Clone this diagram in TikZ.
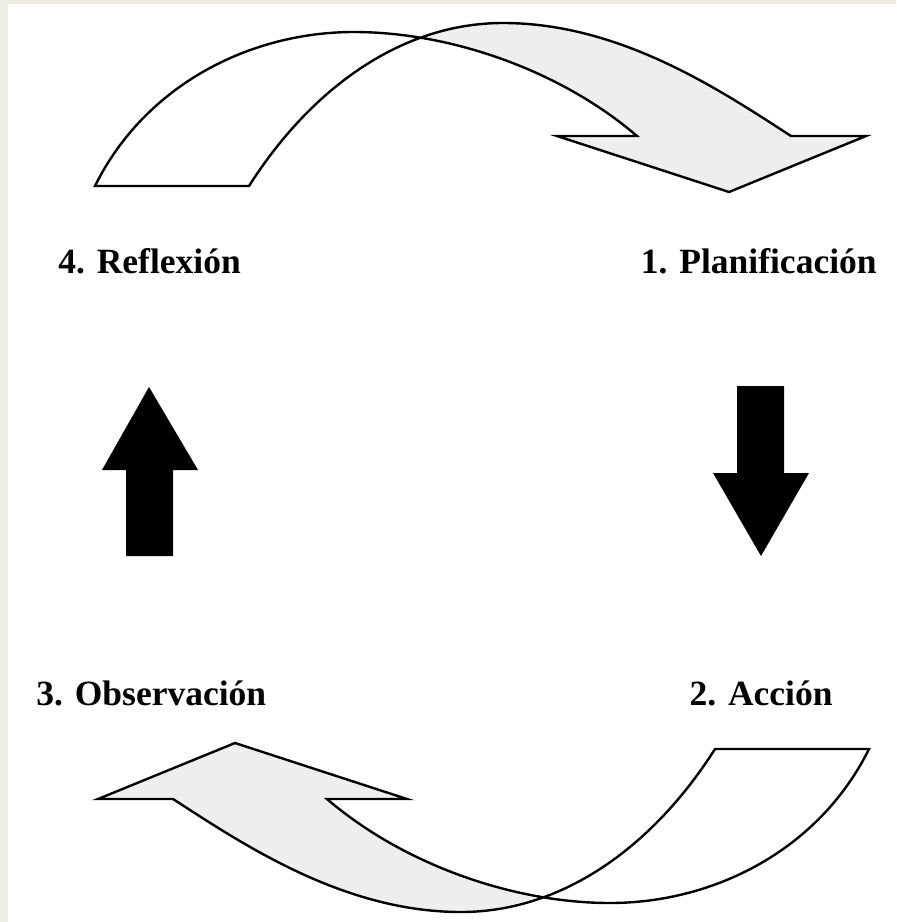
\documentclass[tikz,border=0pt]{standalone}
\usepackage{fontspec}
\setmainfont{Liberation Serif}
\usetikzlibrary{positioning}
\definecolor{paper}{RGB}{239,236,228}
\definecolor{bandgray}{RGB}{238,238,238}

\begin{document}
\begin{tikzpicture}[
        x=0.5pt, y=-0.5pt,
        every node/.style={font=\fontsize{17.75}{20}\selectfont\bfseries, inner sep=0pt},
        outline/.style={draw=black, line width=1.2pt, line join=miter},
        blockarrow/.style={fill=black},
        twistpath/.style={insert path={(95,186) .. controls (145,85) and (250,32) .. (354,32)
            .. controls (450,32) and (560,70) .. (637,136) -- (557,136) -- (729,192) -- (866,136) -- (791,136)
            .. controls (720,90) and (620,23) .. (503,23) .. controls (400,23) and (310,90) .. (249,186) -- cycle}},
        twist/.pic={
            \begin{scope}
                \clip (421,0) rectangle (900,220);
                \fill[bandgray, twistpath];
            \end{scope}
            \draw[outline, twistpath];
        }
    ]
%
    \useasboundingbox (0,0) rectangle (896,922);
    \fill[paper] (0,0) rectangle (896,922);
    \fill[white] (8,4) rectangle (896,922);
%
    \node[anchor=base west] (reflexion) at (58,273) {4. Reflexión};
    \node[anchor=base east] (planif) at (877,273) {1. Planificación};
    \node[anchor=base east] (accion) at (833,705) {2. Acción};
    \node[anchor=base west] (observ) at (36,705) {3. Observación};
%
    % twisted arrows, top and bottom
    \pic at (0,0) {twist};
    \pic[rotate=180] at (964,935) {twist};
%
    % black arrows
    \fill[blockarrow] (126,556) -- (126,470) -- (102,470) -- (149,387) -- (198,470) -- (173,470) -- (173,556) -- cycle;
    \fill[blockarrow] (737,386) -- (784,386) -- (784,473) -- (809,473) -- (761,556) -- (713,473) -- (737,473) -- cycle;
%
\end{tikzpicture}
\end{document}
